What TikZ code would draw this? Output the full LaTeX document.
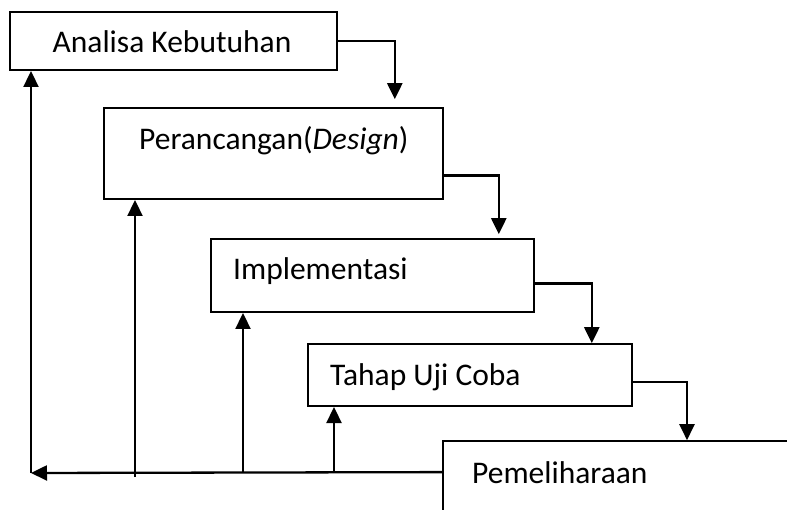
\documentclass[tikz,border=0pt]{standalone}
\usepackage{fontspec}
\setmainfont{Carlito}
\usetikzlibrary{arrows.meta}

\tikzset{
  tahap/.style={draw, line width=1.8pt, rectangle, anchor=south west, inner sep=0pt},
  teks/.style={anchor=base west, inner sep=0pt, font=\fontsize{31.5}{36}\selectfont},
  alur/.style={line width=2.3pt, -{Triangle[length=16pt,width=15pt]}}
}

\begin{document}
\begin{tikzpicture}[x=1pt,y=1pt]
        \useasboundingbox (0,0) rectangle (787,509);
        \clip (0,0) rectangle (787,509);

        % kotak tahapan
        \node[tahap, minimum width=327, minimum height=58] (ana) at (9,438) {};
        \node[tahap, minimum width=339, minimum height=91] (ran) at (103,309) {};
        \node[tahap, minimum width=323, minimum height=73] (imp) at (210,196) {};
        \node[tahap, minimum width=324, minimum height=62] (uji) at (307,102) {};
        \node[tahap, minimum width=400, minimum height=98] (pem) at (442,-31) {};

        \node[teks, anchor=base] (tana) at (172,456) {Analisa Kebutuhan};
        \node[teks] (tran) at (139,359) {Perancangan(\textit{Design})};
        \node[teks] (timp) at (233,229) {Implementasi};
        \node[teks] (tuji) at (330,124) {Tahap Uji Coba};
        \node[teks] (tpem) at (472,26) {Pemeliharaan};

        % alur ke bawah
        \draw[alur, shorten >=8pt] (ana.east) -| ([xshift=-49pt]ran.north east);
        \draw[alur, shorten >=4pt] ([yshift=-22pt]ran.east) -| ([xshift=-36pt]imp.north east);
        \draw[alur] ([yshift=-8pt]imp.east) -| ([xshift=-41pt]uji.north east);
        \draw[alur] ([yshift=-7pt]uji.east) -| ([xshift=245pt]pem.north west);

        % umpan balik
        \coordinate (balik) at (31,36);
        \coordinate (b2) at (135,32);
        \coordinate (b3) at (243,36);
        \coordinate (b4) at (334,36);
        \draw[alur] ([yshift=18pt]pem.west) -- (balik);
        \draw[alur] (balik) -- (balik |- ana.south);
        \draw[alur] (b2) -- (b2 |- ran.south);
        \draw[alur] (b3) -- (b3 |- imp.south);
        \draw[alur] (b4) -- (b4 |- uji.south);
\end{tikzpicture}
\end{document}
